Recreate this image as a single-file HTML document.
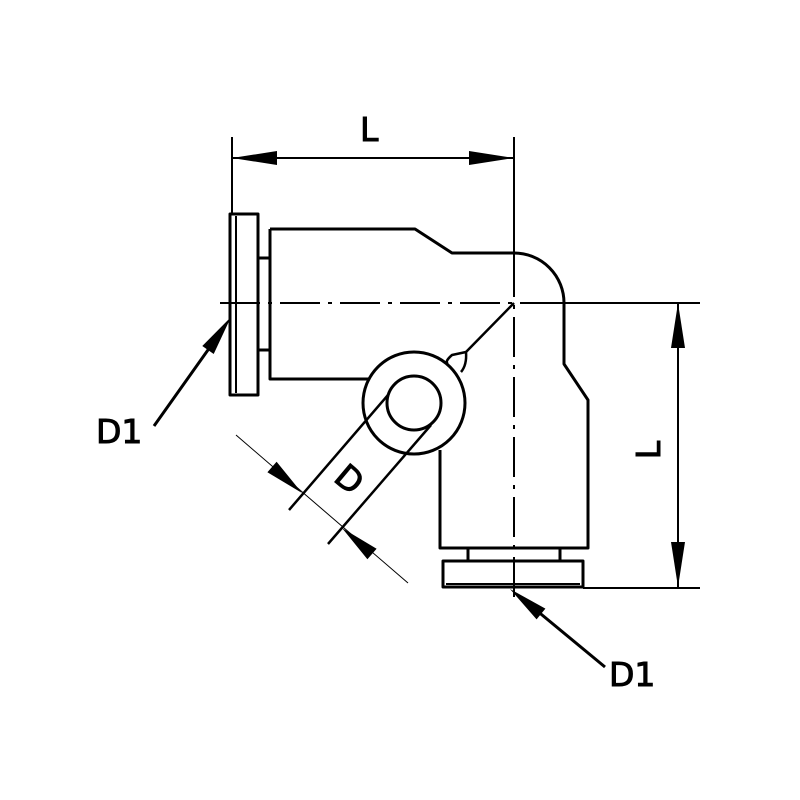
<!DOCTYPE html>
<html><head><style>html,body{margin:0;padding:0;background:#fff}svg{display:block}</style></head><body>
<svg width="800" height="800" viewBox="0 0 800 800" xmlns="http://www.w3.org/2000/svg">
<g fill="none" stroke="#000" stroke-linejoin="round">
<line x1="220" y1="303" x2="700" y2="303" stroke-width="2" stroke-dasharray="40,8,4,8"/>
<line x1="514" y1="137" x2="514" y2="600" stroke-width="2" stroke-dasharray="40,8,4,8"/>
<line x1="514" y1="137" x2="514" y2="260" stroke-width="2"/>
<line x1="560" y1="303" x2="700" y2="303" stroke-width="2"/>
<line x1="583" y1="588" x2="700" y2="588" stroke-width="2"/>
<line x1="232" y1="137" x2="232" y2="213" stroke-width="2"/>
<path d="M270,229 L415,229 L452,253 L514,253 A50,50 0 0 1 564,303 L564,364 L588,400 L588,548 L440,548 L440,450" stroke-width="3"/>
<path d="M270,229 L270,379 L370,379" stroke-width="3"/>
<rect x="230" y="214" width="28" height="181" stroke-width="3"/>
<line x1="236" y1="216" x2="236" y2="393" stroke-width="2"/>
<rect x="258" y="258" width="12" height="92" stroke-width="3"/>
<rect x="468" y="548" width="92" height="13" stroke-width="3"/>
<rect x="443" y="561" width="140" height="26" stroke-width="3"/>
<line x1="446" y1="584" x2="580" y2="584" stroke-width="2"/>
<circle cx="414" cy="403" r="51" stroke-width="3"/>
<circle cx="414" cy="403" r="27" stroke-width="3"/>
<line x1="514" y1="303" x2="466" y2="352" stroke-width="2.5"/>
<path d="M466,352 L452,355 Q444,362 448,364 M466,352 Q467,365 461,372" stroke-width="2.5"/>
<line x1="388" y1="395" x2="289" y2="510" stroke-width="2.5"/>
<line x1="431" y1="425" x2="328" y2="544" stroke-width="2.5"/>
<line x1="236" y1="435" x2="408" y2="583" stroke-width="1"/>
<line x1="232" y1="158" x2="514" y2="158" stroke-width="2"/>
<line x1="678" y1="303" x2="678" y2="587" stroke-width="2"/>
<line x1="154" y1="426" x2="220" y2="333" stroke-width="3"/>
<line x1="605" y1="667" x2="530" y2="605" stroke-width="3"/>
</g>
<g fill="#000">
<polygon points="232,158 277,151 277,165"/>
<polygon points="514,158 469,151 469,165"/>
<polygon points="678,303 671,348 685,348"/>
<polygon points="678,587 671,542 685,542"/>
<polygon points="231,317 213.7,354 202.3,346"/>
<polygon points="510,589 545.4,608.6 536.6,619.4"/>
<polygon points="302,493 276.6,461.7 267.4,472.3"/>
<polygon points="342,528 376.6,548.7 367.4,559.3"/>
</g>
<g font-family="DejaVu Sans, sans-serif" font-size="33" fill="#000" stroke="#000" stroke-width="1">
<text x="96" y="443">D1</text>
<text x="609" y="686">D1</text>
<text x="360" y="141">L</text>
<text transform="translate(660,450) rotate(-90)" text-anchor="middle">L</text>
<text transform="translate(342,488) rotate(40)" text-anchor="middle">D</text>
</g>
</svg>
</body></html>
